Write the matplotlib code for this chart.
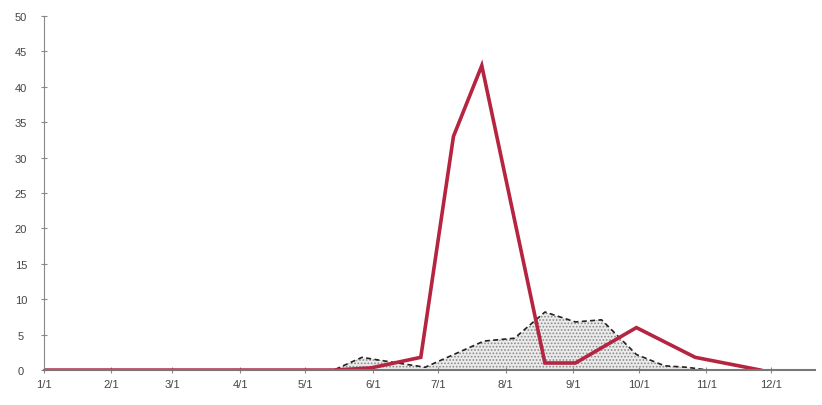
import numpy as np
import matplotlib
matplotlib.use("Agg")
import matplotlib.pyplot as plt

# red series (kink points)
red_dates = np.array(["2010-01-01", "2010-05-14", "2010-05-31", "2010-06-23", "2010-07-08",
                      "2010-07-21", "2010-08-19", "2010-09-02", "2010-09-30", "2010-10-27",
                      "2010-11-26"], dtype="datetime64[D]")
red_vals = [0, 0, 0.3, 1.8, 33, 43, 1, 1, 6, 1.8, 0]

# grey shaded series
grey_dates = np.array(["2010-01-01", "2010-05-14", "2010-05-27", "2010-06-04", "2010-06-25",
                       "2010-07-22", "2010-08-05", "2010-08-19", "2010-09-02", "2010-09-14",
                       "2010-09-30", "2010-10-13", "2010-10-23", "2010-11-02", "2010-12-21"],
                      dtype="datetime64[D]")
grey_vals = [0, 0, 1.8, 1.4, 0.4, 4.1, 4.5, 8.2, 6.8, 7.1, 2.2, 0.6, 0.4, 0, 0]

month_ticks = np.array(["2010-%02d-01" % m for m in range(1, 13)], dtype="datetime64[D]")
month_labels = ["%d/1" % m for m in range(1, 13)]

plt.rcParams['font.family'] = ['Liberation Sans', 'DejaVu Sans']
plt.rcParams['hatch.color'] = '#8a8a8a'
plt.rcParams['hatch.linewidth'] = 0.8

fig = plt.figure(figsize=(8.22, 4.06), dpi=100)
ax = fig.add_axes([0.0535, 0.086, 0.938, 0.872])

gx = grey_dates.astype("datetime64[ms]").astype(object)
rx = red_dates.astype("datetime64[ms]").astype(object)

ax.fill_between(gx, grey_vals, 0, facecolor='#ebebeb', edgecolor='#8a8a8a',
                hatch='.....', linewidth=0)
ax.plot(gx, grey_vals, color='#222222', linestyle=(0, (3, 2)), linewidth=1.2)
ax.plot(rx, red_vals, color='#b52440', linewidth=2.6, solid_joinstyle='miter')

ax.set_xlim(np.datetime64("2010-01-01").astype(object), np.datetime64("2010-12-21").astype(object))
ax.set_ylim(0, 50)
ax.set_yticks(np.arange(0, 55, 5))
ax.set_xticks([d.astype(object) for d in month_ticks])
ax.set_xticklabels(month_labels)

for s in ['top', 'right']:
    ax.spines[s].set_visible(False)
ax.spines['left'].set_color('#888888')
ax.spines['bottom'].set_color('#777777')
ax.spines['bottom'].set_linewidth(1.5)
ax.tick_params(axis='both', direction='inout', length=5, color='#888888',
               labelsize=8, labelcolor='#444444')
ax.tick_params(axis='x', pad=4)
ax.tick_params(axis='y', pad=14)
for lbl in ax.get_yticklabels():
    lbl.set_horizontalalignment('center')

fig.savefig("out.png", dpi=100)
